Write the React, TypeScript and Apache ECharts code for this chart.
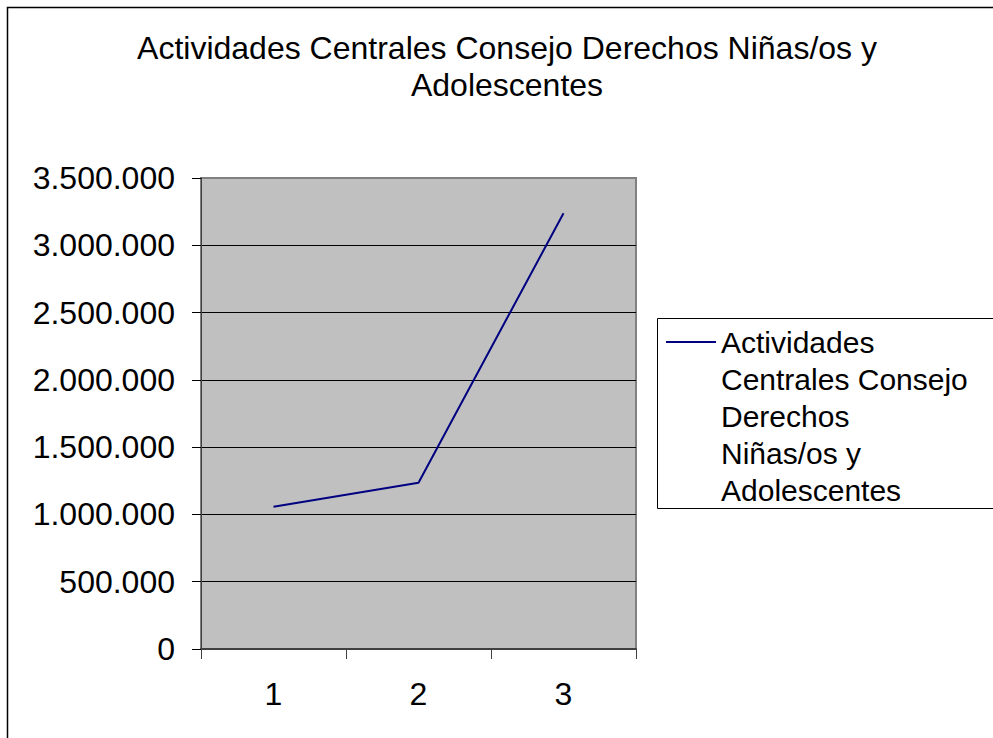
import React, { useEffect, useRef } from "react";
import * as echarts from "echarts";

const titleText = "Actividades Centrales Consejo Derechos Niñas/os y\nAdolescentes";
const seriesName = "Actividades Centrales Consejo Derechos Niñas/os y Adolescentes";
const legendLines = ["Actividades", "Centrales Consejo", "Derechos", "Niñas/os y", "Adolescentes"];
const categories = ["1", "2", "3"];
const values = [1057000, 1235000, 3238000];
const yMin = 0;
const yMax = 3500000;
const yInterval = 500000;

const fmt = (v: number) => String(v).replace(/\B(?=(\d{3})+(?!\d))/g, ".");

export default function App() {
  const ref = useRef<HTMLDivElement>(null);
  useEffect(() => {
    if (!ref.current) return;
    const chart = echarts.init(ref.current, undefined, { renderer: "svg" });
    const font = "'Liberation Sans', Arial, sans-serif";
    // leading blank lines keep the first legend line level with the icon
    const legendLabel = "\n".repeat(legendLines.length - 1) + legendLines.join("\n");
    chart.setOption({
      animation: false,
      backgroundColor: "#ffffff",
      textStyle: { fontFamily: font },
      title: {
        text: titleText,
        left: 507,
        top: 29.5,
        textAlign: "center",
        padding: 0,
        textStyle: { fontSize: 32, fontWeight: "normal", color: "#000", lineHeight: 37, fontFamily: font },
      },
      legend: {
        data: [seriesName],
        left: 666,
        top: 175.5,
        padding: 0,
        icon: "rect",
        itemWidth: 50,
        itemHeight: 2,
        itemGap: 0,
        formatter: () => legendLabel,
        textStyle: { fontSize: 30, color: "#000", lineHeight: 37, fontFamily: font },
        z: 10,
      },
      graphic: [
        {
          type: "rect",
          shape: { x: 7.5, y: 7.5, width: 1100, height: 1100 },
          style: { fill: "none", stroke: "#000", lineWidth: 1.5 },
          silent: true,
          z: 0,
        },
        {
          type: "rect",
          shape: { x: 657.5, y: 318.5, width: 400, height: 190 },
          style: { fill: "#fff", stroke: "#000", lineWidth: 1 },
          silent: true,
          z: 1,
        },
      ],
      grid: {
        left: 201,
        top: 178,
        width: 435,
        height: 471,
        show: true,
        backgroundColor: "#c0c0c0",
        borderColor: "#808080",
        borderWidth: 2,
        containLabel: false,
      },
      xAxis: {
        type: "category",
        data: categories,
        boundaryGap: true,
        axisLine: { show: true, lineStyle: { color: "#404040", width: 2 } },
        axisTick: { show: true, inside: false, length: 10, lineStyle: { color: "#404040", width: 1 } },
        axisLabel: { fontSize: 32, color: "#000", margin: 29, fontFamily: font },
        splitLine: { show: false },
      },
      yAxis: {
        type: "value",
        min: yMin,
        max: yMax,
        interval: yInterval,
        axisLine: { show: true, lineStyle: { color: "#404040", width: 1 } },
        axisTick: { show: true, inside: false, length: 9, lineStyle: { color: "#000", width: 1 } },
        axisLabel: { fontSize: 32, color: "#000", margin: 26, formatter: (v: number) => fmt(v), fontFamily: font },
        splitLine: {
          show: true,
          lineStyle: { color: ["#000", "#000", "#000", "#000", "#000", "#000", "#000", "#808080"], width: 1 },
        },
      },
      series: [
        {
          name: seriesName,
          type: "line",
          data: values,
          symbol: "none",
          lineStyle: { color: "#000080", width: 2 },
          itemStyle: { color: "#000080" },
        },
      ],
    });
    return () => chart.dispose();
  }, []);
  return (
    <div
      ref={ref}
      style={{ position: "absolute", left: 0, top: 0, width: 993, height: 738 }}
    />
  );
}
